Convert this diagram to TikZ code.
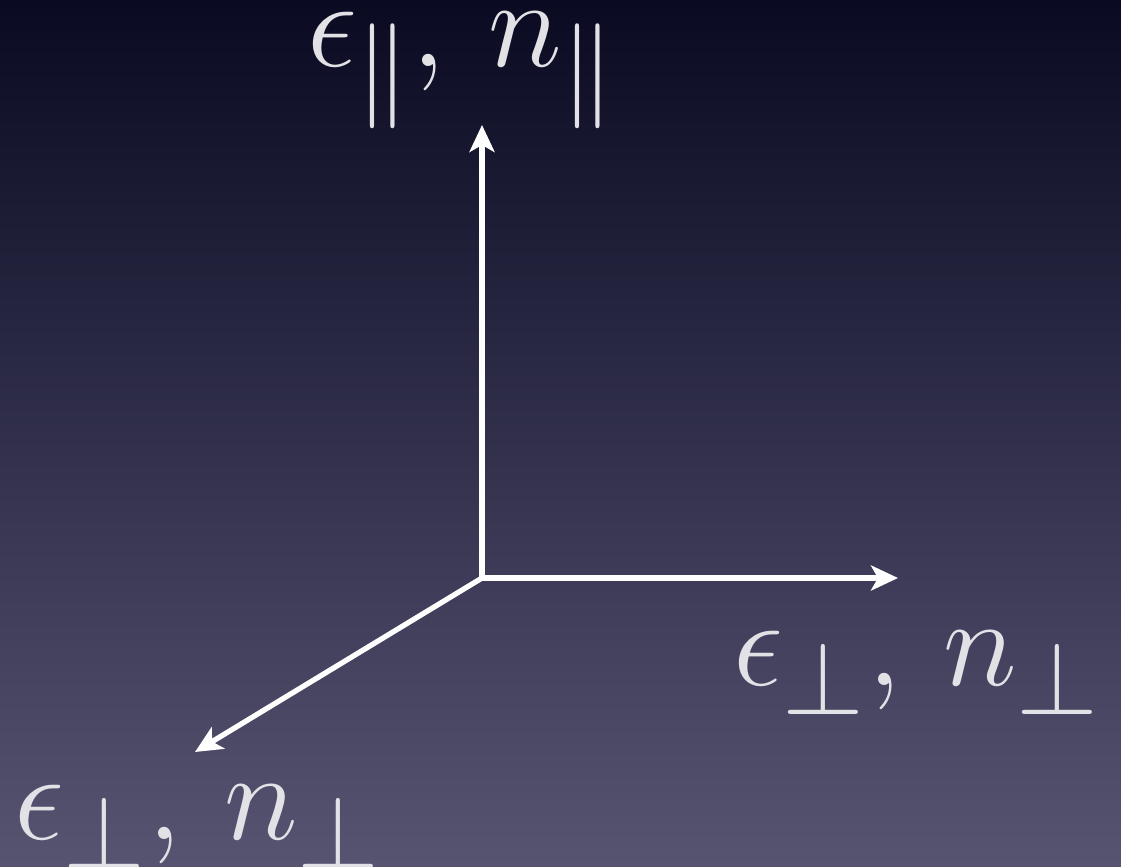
\documentclass[tikz,border=0pt]{standalone}
\usetikzlibrary{arrows.meta}
\definecolor{bgtop}{HTML}{0A0A22}
\definecolor{bgmid}{HTML}{2C2B55}
\definecolor{bgbot}{HTML}{575472}
\definecolor{labelgray}{HTML}{E2E2E6}
\tikzset{
  axis/.style={line width=1.5pt,white,-{Stealth[length=0.27cm,width=0.25cm,inset=0.07cm]}},
  axlabel/.style={text=labelgray,anchor=base,inner sep=0pt,scale=1.44,transform shape,font=\Huge}
}
\begin{document}
\begin{tikzpicture}
\shade[top color=bgtop,middle color=bgmid,bottom color=bgbot] (0,0) rectangle (11.21,8.66);
\useasboundingbox (0,0) rectangle (11.21,8.66);
\coordinate (o) at (4.82,2.88);
\coordinate (up) at (4.82,7.41);
\coordinate (right) at (8.98,2.88);
\coordinate (front) at (1.95,1.14);
\draw[axis] (o) -- (up);
\draw[axis] (o) -- (right);
\draw[axis] (o) -- (front);
\node[axlabel] (lpar) at (4.62,7.99) {$\epsilon_{\|},\,n_{\|}$};
\node[axlabel] (lperpr) at (9.17,1.81) {$\epsilon_{\perp},\,n_{\perp}$};
\node[axlabel] (lperpf) at (1.98,0.27) {$\epsilon_{\perp},\,n_{\perp}$};
\end{tikzpicture}
\end{document}
